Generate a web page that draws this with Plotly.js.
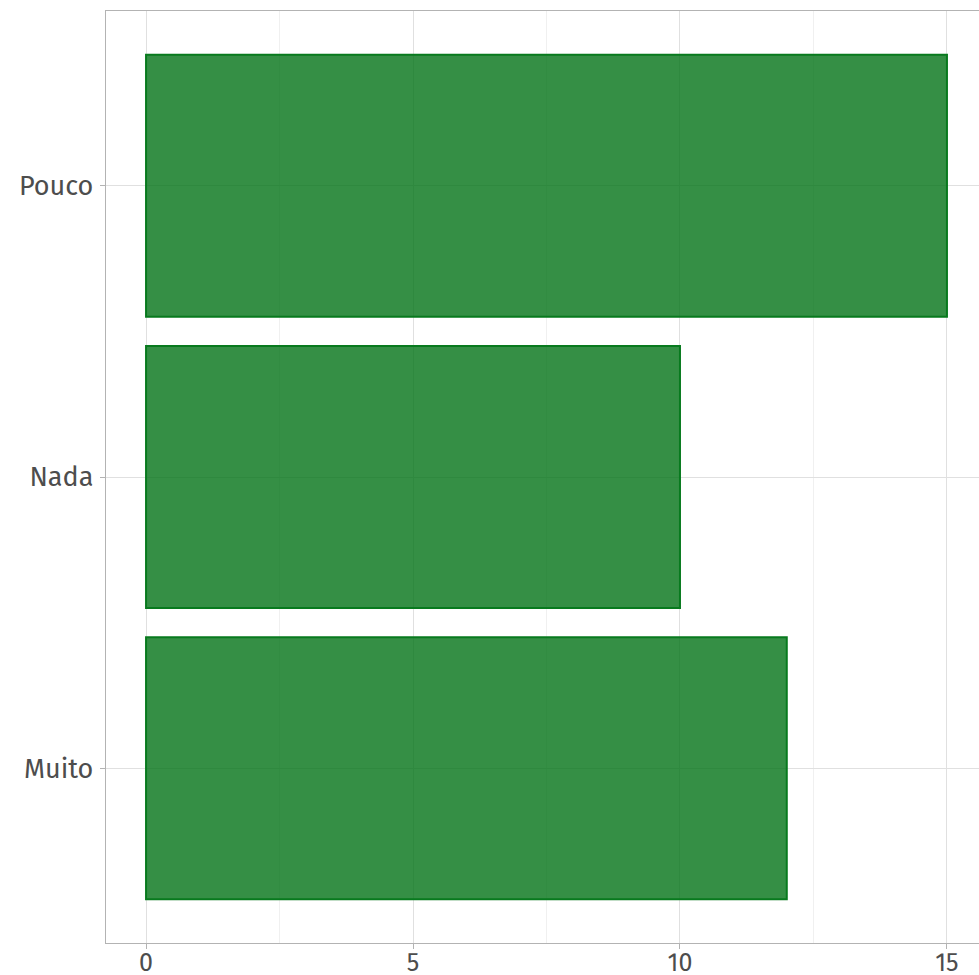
<!DOCTYPE html>
<html>
<head>
<meta charset="utf-8">
<script src="https://cdn.plot.ly/plotly-3.0.1.min.js"></script>
<style>
html,body{margin:0;padding:0;overflow:hidden;background:#fff;}
#chart{width:988px;height:975px;}
</style>
</head>
<body>
<div id="chart"></div>
<script>
const categories = ["Muito", "Nada", "Pouco"];
const counts = [12, 10, 15];
const xTicks = [0, 5, 10, 15];
const xTickLabels = ["0", "5", "10", "15"];

const trace = {
  type: "bar",
  orientation: "h",
  x: counts,
  y: categories,
  width: 0.9,
  marker: {
    color: "rgba(3,115,23,0.8)",
    line: {color: "rgb(8,122,30)", width: 2}
  },
  hoverinfo: "x+y"
};

const fontFam = "'Fira Sans', 'Open Sans', 'DejaVu Sans', sans-serif";

const layout = {
  width: 987,
  height: 975,
  margin: {l: 106, r: 0, t: 11, b: 32},
  paper_bgcolor: "#ffffff",
  plot_bgcolor: "#ffffff",
  showlegend: false,
  font: {family: fontFam, color: "#4d4d4d", size: 26},
  xaxis: {
    range: [-0.75, 15.75],
    tickvals: xTicks,
    ticktext: xTickLabels,
    showgrid: true,
    gridcolor: "#e0e0e0",
    gridwidth: 1,
    zeroline: false,
    showline: true,
    linecolor: "#b3b3b3",
    linewidth: 1.2,
    mirror: true,
    ticks: "outside",
    ticklen: 5,
    tickcolor: "#b3b3b3",
    tickwidth: 1,
    ticklabelstandoff: -8,
    tickfont: {size: 25, color: "#4d4d4d", family: fontFam},
    minor: {dtick: 2.5, tick0: 0, showgrid: true, gridcolor: "#f0f0f0", gridwidth: 1, ticks: ""}
  },
  yaxis: {
    type: "category",
    categoryorder: "array",
    categoryarray: categories,
    range: [-0.6, 2.6],
    showgrid: true,
    gridcolor: "#e0e0e0",
    gridwidth: 1,
    zeroline: false,
    showline: true,
    linecolor: "#b3b3b3",
    linewidth: 1.2,
    mirror: true,
    ticks: "outside",
    ticklen: 5,
    tickcolor: "#b3b3b3",
    tickwidth: 1,
    ticklabelstandoff: 1,
    tickfont: {size: 27, color: "#4d4d4d", family: fontFam}
  }
};

Plotly.newPlot("chart", [trace], layout, {displayModeBar: false, staticPlot: true});
</script>
</body>
</html>
